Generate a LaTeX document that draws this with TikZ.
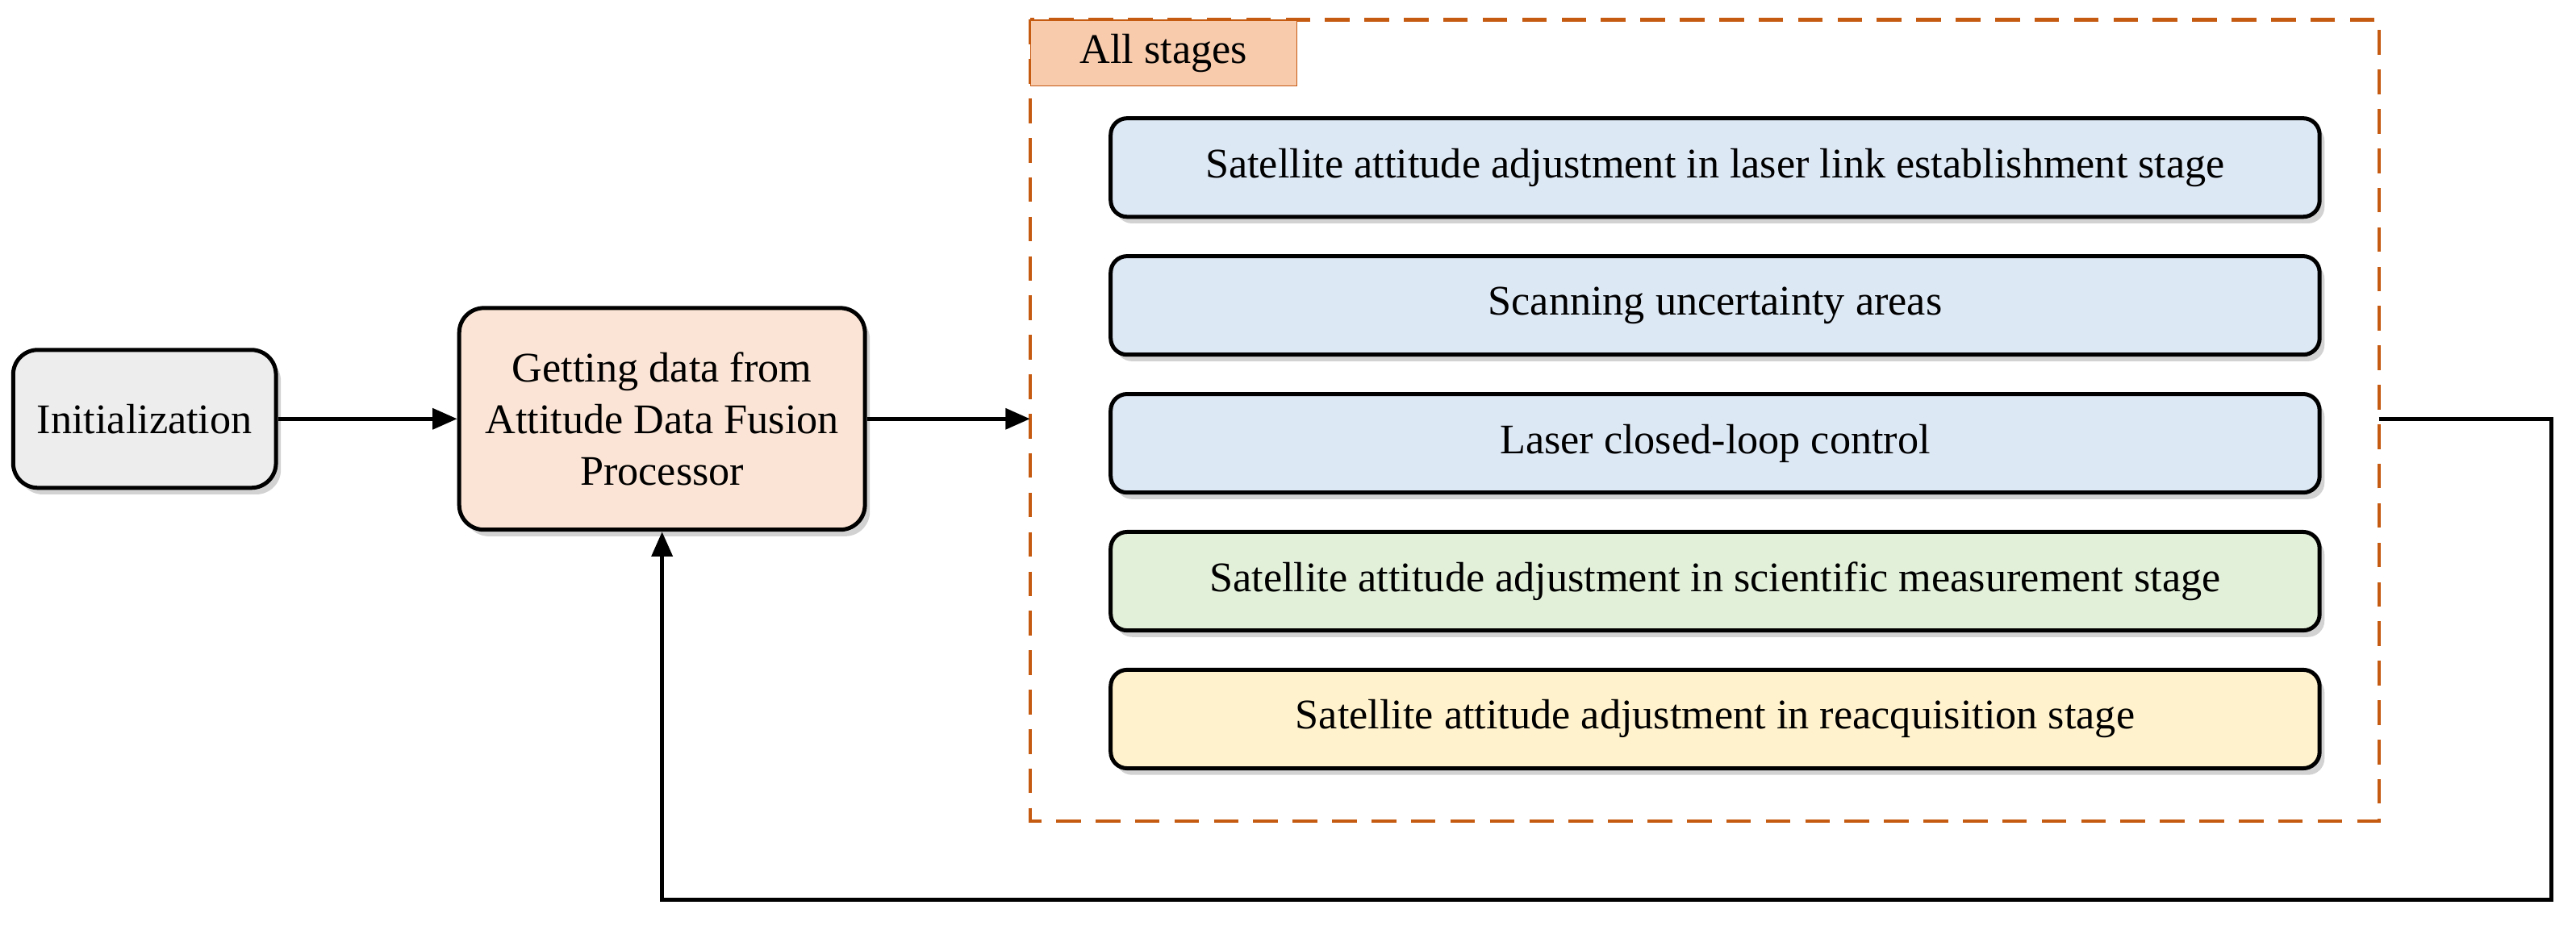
\documentclass[tikz,border=0pt]{standalone}
\usepackage{fontspec}
\setmainfont{Liberation Serif}
\usepackage{xcolor}
\usetikzlibrary{positioning,shadows,arrows.meta}
\definecolor{stageblue}{RGB}{221,232,245}
\definecolor{stagegreen}{RGB}{226,239,217}
\definecolor{stageyellow}{RGB}{255,242,204}
\definecolor{procpeach}{RGB}{251,228,213}
\definecolor{initgray}{RGB}{237,237,237}
\definecolor{tabpeach}{RGB}{248,203,173}
\definecolor{frameorange}{RGB}{197,90,17}

\begin{document}
\begin{tikzpicture}[x=0.02cm, y=-0.02cm, font=\fontsize{14.6}{18}\selectfont]
    \tikzstyle{block} = [rectangle, rounded corners=0.3cm, draw=black, line width=1.4pt, text centered, drop shadow={shadow xshift=0.06cm, shadow yshift=-0.08cm, fill=black!35}]
    \tikzstyle{stage} = [block, rounded corners=0.2cm, minimum width=14.72cm, minimum height=1.2cm, fill=stageblue]
    \tikzstyle{flow} = [draw, line width=1.4pt, -{Triangle[length=0.3cm, width=0.25cm]}]

    \useasboundingbox (0,0) rectangle (1568,566);

    % Stage frame
    \draw [frameorange, dashed, line width=1.2pt, dash pattern=on 0.3cm off 0.18cm] (627,12) rectangle (1448,500);
    \node [rectangle, draw=frameorange, fill=tabpeach, minimum width=3.24cm, minimum height=0.8cm, anchor=north west] (tab) at (627,12) {All stages};
    \coordinate (frame_in) at (627,255);
    \coordinate (frame_out) at (1448,255);

    % Left blocks
    \node [block, fill=initgray, minimum width=3.2cm, minimum height=1.68cm] (init) at (88,255) {Initialization};
    \node [block, fill=procpeach, minimum width=4.94cm, minimum height=2.7cm, align=center] (getdata) at (403,255) {Getting data from\\Attitude Data Fusion\\Processor};

    % Stages
    \node [stage] (link) at (1044,102) {Satellite attitude adjustment in laser link establishment stage};
    \node [stage, below=0.43cm of link] (scan) {Scanning uncertainty areas};
    \node [stage, below=0.43cm of scan] (loop) {Laser closed-loop control};
    \node [stage, below=0.43cm of loop, fill=stagegreen] (science) {Satellite attitude adjustment in scientific measurement stage};
    \node [stage, below=0.43cm of science, fill=stageyellow] (reacq) {Satellite attitude adjustment in reacquisition stage};

    % Arrows
    \draw [flow] (init) -- (getdata);
    \draw [flow] (getdata) -- (frame_in);
    \draw [flow] (frame_out) -- (1553,255) -- (1553,548) -- (403,548) -- (getdata.south);
\end{tikzpicture}
\end{document}
